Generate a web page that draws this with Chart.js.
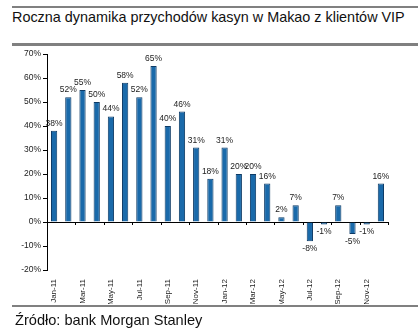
<!DOCTYPE html>
<html>
<head>
<meta charset="utf-8">
<script src="https://cdn.jsdelivr.net/npm/chart.js@4/dist/chart.umd.min.js"></script>
<style>
  body { margin: 0; background: #fff; }
  #wrap { position: relative; width: 420px; height: 330px; font-family: 'Liberation Sans', Arial, sans-serif; }
  .rule { position: absolute; left: 12px; width: 406px; background: #808080; }
  #title { position: absolute; left: 12px; top: 9px; font-size: 14.4px; color: #111; white-space: nowrap; }
  #source { position: absolute; left: 15px; top: 312px; font-size: 14.6px; color: #111; white-space: nowrap; }
  #chart { position: absolute; left: 0; top: 0; }
</style>
</head>
<body>
<div id="wrap">
  <div class="rule" style="top:6px;height:2px"></div>
  <div id="title">Roczna dynamika przychodów kasyn w Makao z klientów VIP</div>
  <div class="rule" style="top:43px;height:3px"></div>
  <canvas id="chart" width="420" height="330"></canvas>
  <div class="rule" style="top:305px;height:2px"></div>
  <div id="source">Źródło: bank Morgan Stanley</div>
</div>
<script>
// months Jan-11 .. Dec-12
const months = ['Jan-11', 'Feb-11', 'Mar-11', 'Apr-11', 'May-11', 'Jun-11', 'Jul-11', 'Aug-11', 'Sep-11', 'Oct-11', 'Nov-11', 'Dec-11',
                'Jan-12', 'Feb-12', 'Mar-12', 'Apr-12', 'May-12', 'Jun-12', 'Jul-12', 'Aug-12', 'Sep-12', 'Oct-12', 'Nov-12', 'Dec-12'];
// y/y change of VIP revenue, %
const growth = [38, 52, 55, 50, 44, 58, 52, 65, 40, 46, 31, 18,
                31, 20, 20, 16, 2, 7, -8, -1, 7, -5, -1, 16];
const yMin = -20;
const yMax = 70;
const yStep = 10;

const FONT = "'Liberation Sans', Arial, sans-serif";

// value labels above / below each bar
const barLabels = {
    id: 'barLabels',
    afterDatasetsDraw(chart) {
        const ctx = chart.ctx;
        const meta = chart.getDatasetMeta(0);
        ctx.save();
        ctx.font = '8.5px ' + FONT;
        ctx.fillStyle = '#222';
        ctx.textAlign = 'center';
        meta.data.forEach(function (bar, i) {
            const v = growth[i];
            if (v >= 0) {
                ctx.textBaseline = 'bottom';
                ctx.fillText(v + '%', bar.x, bar.y - 3);
            } else {
                ctx.textBaseline = 'top';
                ctx.fillText(v + '%', bar.x, bar.y + 3);
            }
        });
        ctx.restore();
    }
};

// small tick marks hanging from the zero line, every other month
const zeroTicks = {
    id: 'zeroTicks',
    afterDatasetsDraw(chart) {
        const ctx = chart.ctx;
        const x = chart.scales.x;
        const y0 = chart.scales.y.getPixelForValue(0);
        const half = (x.getPixelForValue(1) - x.getPixelForValue(0)) / 2;
        ctx.save();
        ctx.strokeStyle = '#000';
        ctx.lineWidth = 1;
        ctx.beginPath();
        for (let i = 0; i <= months.length; i += 2) {
            const px = Math.round(x.getPixelForValue(i) - half) + 0.5;
            ctx.moveTo(px, y0);
            ctx.lineTo(px, y0 + 3);
        }
        ctx.stroke();
        ctx.restore();
    }
};

new Chart(document.getElementById('chart'), {
    type: 'bar',
    data: {
        labels: months,
        datasets: [{
            data: growth,
            backgroundColor: '#1a6aaa',
            borderColor: '#0e3b66',
            borderWidth: 1,
            barPercentage: 0.44,
            categoryPercentage: 1
        }]
    },
    options: {
        responsive: false,
        animation: false,
        layout: { padding: { left: 0, right: 32, top: 54, bottom: 26 } },
        plugins: { legend: { display: false }, tooltip: { enabled: false } },
        scales: {
            x: {
                grid: { display: false },
                border: { display: false },
                ticks: {
                    autoSkip: false,
                    minRotation: 90,
                    maxRotation: 90,
                    padding: 1,
                    color: '#222',
                    font: { family: FONT, size: 8 },
                    callback: function (v, i) { return i % 2 === 0 ? months[i] : ''; }
                },
                afterFit: function (s) { s.height = 34; }
            },
            y: {
                min: yMin,
                max: yMax,
                ticks: {
                    stepSize: yStep,
                    padding: 2,
                    color: '#222',
                    font: { family: FONT, size: 8.5 },
                    callback: function (v) { return v + '%'; }
                },
                grid: {
                    color: function (c) { return c.tick && c.tick.value === 0 ? '#000' : 'rgba(0,0,0,0)'; },
                    tickColor: '#000',
                    tickLength: 4,
                    lineWidth: 1
                },
                border: { display: true, color: '#000', width: 1 },
                afterFit: function (s) { s.width = 47; }
            }
        }
    },
    plugins: [barLabels, zeroTicks]
});
</script>
</body>
</html>
